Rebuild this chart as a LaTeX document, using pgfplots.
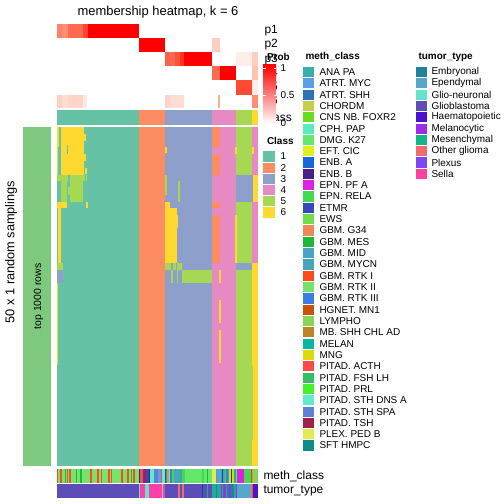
\documentclass[border=0pt]{standalone}
\usepackage{pgfplots}
\pgfplotsset{compat=1.18}
\usepackage{fontspec}
\setmainfont{Liberation Sans}
\definecolor{cA}{HTML}{66C2A5}
\definecolor{cB}{HTML}{FC8D62}
\definecolor{cC}{HTML}{8DA0CB}
\definecolor{cD}{HTML}{E78AC3}
\definecolor{cE}{HTML}{A6D854}
\definecolor{cF}{HTML}{FFD92F}
\definecolor{lg}{HTML}{7FC97F}
\definecolor{r10}{HTML}{FFEDE8}
\definecolor{r12}{HTML}{FFE9E3}
\definecolor{r18}{HTML}{FFDDD4}
\definecolor{r20}{HTML}{FFDAD0}
\definecolor{r22}{HTML}{FFD5CA}
\definecolor{r25}{HTML}{FFCFC2}
\definecolor{r30}{HTML}{FFC3B2}
\definecolor{r40}{HTML}{FFAD98}
\definecolor{r55}{HTML}{FF8E73}
\definecolor{r60}{HTML}{FF8268}
\definecolor{r70}{HTML}{FF6A50}
\definecolor{r75}{HTML}{FF5F46}
\definecolor{r80}{HTML}{FF5038}
\definecolor{r82}{HTML}{FF4B34}
\definecolor{r85}{HTML}{FF4430}
\definecolor{r90}{HTML}{FF3320}
\definecolor{rmid}{HTML}{FFA08A}
\definecolor{m1}{HTML}{3AADA8}
\definecolor{m2}{HTML}{5AA0E6}
\definecolor{m3}{HTML}{2F72B8}
\definecolor{m4}{HTML}{C7CC4E}
\definecolor{m5}{HTML}{6ADB1E}
\definecolor{m6}{HTML}{57EBC0}
\definecolor{m7}{HTML}{63E86A}
\definecolor{m8}{HTML}{DDF01E}
\definecolor{m9}{HTML}{1468D9}
\definecolor{m10}{HTML}{4B1F8A}
\definecolor{m11}{HTML}{DD22E0}
\definecolor{m12}{HTML}{45D851}
\definecolor{m13}{HTML}{3A47B8}
\definecolor{m14}{HTML}{72DD4A}
\definecolor{m15}{HTML}{EE8A5A}
\definecolor{m16}{HTML}{1EB83A}
\definecolor{m17}{HTML}{4AA3C3}
\definecolor{m18}{HTML}{44A5BD}
\definecolor{m19}{HTML}{FF4A1A}
\definecolor{m20}{HTML}{78E36C}
\definecolor{m21}{HTML}{3A7EE0}
\definecolor{m22}{HTML}{C8520A}
\definecolor{m23}{HTML}{86D45A}
\definecolor{m24}{HTML}{C08428}
\definecolor{m25}{HTML}{0DB5A5}
\definecolor{m26}{HTML}{DCDA0A}
\definecolor{m27}{HTML}{FF4848}
\definecolor{m28}{HTML}{34BE62}
\definecolor{m29}{HTML}{46F02E}
\definecolor{m30}{HTML}{5DECCF}
\definecolor{m31}{HTML}{6080D8}
\definecolor{m32}{HTML}{A22050}
\definecolor{m33}{HTML}{E3EA52}
\definecolor{m34}{HTML}{108C88}
\definecolor{nv}{HTML}{2B3A9A}
\definecolor{t1}{HTML}{1F8499}
\definecolor{t2}{HTML}{55A8CC}
\definecolor{t3}{HTML}{66E3CF}
\definecolor{t4}{HTML}{5C4DB9}
\definecolor{t5}{HTML}{4B14CC}
\definecolor{t6}{HTML}{9C2BEB}
\definecolor{t7}{HTML}{15B58A}
\definecolor{t8}{HTML}{F06A6E}
\definecolor{t9}{HTML}{7B47F0}
\definecolor{t10}{HTML}{FF3EA6}
\newcommand{\fs}[1]{\fontsize{#1}{#1}\selectfont}
\newcommand{\R}[5]{\addplot[fill=#1,draw=none,forget plot] coordinates {(#2,#4) (#3,#4) (#3,#5) (#2,#5)};}
\newcommand{\LE}[8]{\R{#1}{#2}{#3}{#4}{#5}\node[anchor=west,font=\fs{10}] at (axis cs:#6,#7) {#8};}
\begin{document}
\begin{tikzpicture}
\useasboundingbox (0,0) rectangle (504bp,504bp);
\begin{axis}[at={(0,0)},anchor=south west,scale only axis,width=504bp,height=504bp,
  xmin=0,xmax=504,ymin=0,ymax=504,y dir=reverse,hide axis,clip=false]
% ---------- membership probabilities ----------
% p1
\R{r60}{57}{62}{24}{38}
\R{r55}{62}{68}{24}{38}
\R{r70}{68}{83}{24}{38}
\R{r85}{83}{88}{24}{38}
\R{red}{88}{138.5}{24}{38}
% p2
\R{red}{138.5}{165}{38}{52}
\R{r25}{212}{219.5}{38}{52}
% p3
\R{r75}{165}{170}{52}{66.3}
\R{r70}{170}{175}{52}{66.3}
\R{r80}{175}{180}{52}{66.3}
\R{r90}{180}{184}{52}{66.3}
\R{red}{184}{212}{52}{66.3}
\R{r10}{235.5}{251.5}{52}{66.3}
\R{r25}{251.5}{258}{52}{66.3}
% p4
\R{r70}{212}{219.5}{66.3}{80.5}
\R{red}{219.5}{235.5}{66.3}{80.5}
\R{r30}{251.5}{258}{66.3}{80.5}
% p5
\R{r82}{235.5}{251.5}{80.5}{94.7}
\R{r10}{251.5}{258}{80.5}{94.7}
% p6
\R{r25}{57}{62}{94.7}{108.5}
\R{r18}{62}{68}{94.7}{108.5}
\R{r22}{68}{83}{94.7}{108.5}
\R{r12}{83}{87}{94.7}{108.5}
\R{r22}{165}{170}{94.7}{108.5}
\R{r18}{170}{184}{94.7}{108.5}
\R{r40}{217.5}{220}{94.7}{108.5}
\R{r55}{251.5}{258}{94.7}{108.5}
% class bar
\R{cA}{57}{138.5}{110}{125}
\R{cB}{138.5}{165}{110}{125}
\R{cC}{165}{212}{110}{125}
\R{cD}{212}{235.5}{110}{125}
\R{cE}{235.5}{251.5}{110}{125}
\R{cF}{251.5}{258}{110}{125}
% ---------- left bar ----------
\R{lg}{23}{51}{127}{466}
% ---------- main heatmap base ----------
\R{cA}{57}{138.6}{127}{466}
\R{cB}{138.5}{165.1}{127}{466}
\R{cC}{165}{212.1}{127}{466}
\R{cD}{212}{235.6}{127}{466}
\R{cE}{235.5}{251.6}{127}{466}
\R{cF}{251.5}{258}{127}{466}
% class 1 overlays
\R{cF}{61}{84}{127}{175}
\R{cF}{83}{85.5}{134}{141}
\R{cF}{84}{86}{154}{161}
\R{cF}{85}{86.5}{168}{174}
\R{cF}{57}{59}{127}{147}
\R{cF}{57}{58}{147}{175}
\R{cA}{66.5}{68}{145}{154}
\R{cE}{57}{67.5}{175}{181}
\R{cE}{70}{85}{175}{181}
\R{cE}{86}{87}{175}{181}
\R{cE}{61}{67}{181}{202}
\R{cE}{67.5}{70}{187}{195}
\R{cE}{70}{83}{181}{202}
\R{cF}{57}{67}{202}{208}
\R{cF}{86}{88}{202}{208}
\R{cF}{58}{60.5}{208}{263}
\R{cE}{57}{63}{263}{270}
\R{cC}{57}{63}{270}{283}
\R{cF}{57}{58}{283}{365}
% class 3 overlays
\R{cF}{165}{167}{147}{153}
\R{cE}{165}{167}{175}{195}
\R{cE}{178}{180}{181}{202}
\R{cF}{165}{170}{202}{208}
\R{cF}{165}{177}{208}{263}
\R{cF}{177}{178}{215}{228}
\R{cE}{165}{171}{263}{270}
\R{cE}{172.5}{176}{263}{270}
\R{cE}{177}{182}{263}{270}
\R{cE}{182}{212}{270}{283}
\R{cE}{171}{172.5}{270}{283}
\R{cE}{176.5}{178}{270}{283}
% class 4 overlays
\R{cB}{212}{219.5}{127}{147}
\R{cB}{212}{219.5}{154}{175}
\R{cB}{212}{219.5}{202}{208}
\R{cB}{212}{219.5}{215}{263}
\R{cF}{219}{220.5}{270}{283}
\R{cF}{219}{220.5}{300}{323}
\R{cF}{219}{220.5}{330}{363}
% class 5 overlays
\R{cF}{235}{236.5}{147}{154}
\R{cF}{235}{236.5}{215}{263}
\R{cC}{236}{251.6}{175}{202}
\R{cC}{236}{252}{263}{270}
\R{cE}{251.5}{253}{366}{440}
% class 6 overlays
\R{cD}{251.5}{258}{127}{175}
\R{cF}{251.7}{254}{147}{154}
\R{cC}{251.5}{253}{175}{202}
\R{cD}{251.5}{258}{202}{263}
% ---------- meth_class bar ----------
\R{m20}{57}{138.5}{469}{482.5}
\R{m19}{57}{58.3}{469}{482.5}
\R{m19}{60.3}{61.7}{469}{482.5}
\R{m16}{65}{66}{469}{482.5}
\R{m19}{66.7}{68}{469}{482.5}
\R{m19}{69}{70}{469}{482.5}
\R{m19}{70.3}{71.3}{469}{482.5}
\R{m16}{76}{77}{469}{482.5}
\R{m16}{79.7}{82}{469}{482.5}
\R{m19}{90}{92}{469}{482.5}
\R{m19}{97}{98.7}{469}{482.5}
\R{m19}{100.7}{101.7}{469}{482.5}
\R{m19}{108}{110}{469}{482.5}
\R{m19}{111}{112}{469}{482.5}
\R{m19}{120.7}{123}{469}{482.5}
\R{m19}{127}{128.7}{469}{482.5}
\R{m16}{130.7}{132}{469}{482.5}
\R{m19}{133}{134.7}{469}{482.5}
\R{m10}{138.5}{140}{469}{482.5}
\R{m27}{140}{142.7}{469}{482.5}
\R{m13}{142.7}{144}{469}{482.5}
\R{m32}{144}{145.7}{469}{482.5}
\R{m13}{145.7}{148.7}{469}{482.5}
\R{m10}{148.7}{150.3}{469}{482.5}
\R{m30}{150.3}{153.7}{469}{482.5}
\R{m31}{153.7}{157.7}{469}{482.5}
\R{m2}{157.7}{160.7}{469}{482.5}
\R{m27}{160.7}{162}{469}{482.5}
\R{m30}{162}{164.7}{469}{482.5}
\R{m13}{164.7}{165.7}{469}{482.5}
\R{m16}{165.7}{167}{469}{482.5}
\R{m15}{167}{168.7}{469}{482.5}
\R{m30}{168.7}{170.3}{469}{482.5}
\R{m21}{170.3}{172}{469}{482.5}
\R{m12}{172}{173.7}{469}{482.5}
\R{m1}{173.7}{175.3}{469}{482.5}
\R{m17}{175.3}{178.7}{469}{482.5}
\R{m1}{178.7}{182}{469}{482.5}
\R{m12}{182}{185.3}{469}{482.5}
\R{m7}{185.3}{202.3}{469}{482.5}
\R{m12}{202.3}{204}{469}{482.5}
\R{m7}{204}{207.3}{469}{482.5}
\R{m16}{207.3}{208.3}{469}{482.5}
\R{m7}{208.3}{211.7}{469}{482.5}
\R{m33}{211.7}{215.7}{469}{482.5}
\R{m1}{215.7}{217.3}{469}{482.5}
\R{m2}{217.3}{220.7}{469}{482.5}
\R{m1}{220.7}{222.3}{469}{482.5}
\R{nv}{222.3}{223.3}{469}{482.5}
\R{m1}{223.3}{225}{469}{482.5}
\R{m12}{225}{226.3}{469}{482.5}
\R{m21}{226.3}{227.7}{469}{482.5}
\R{m1}{227.7}{229}{469}{482.5}
\R{m26}{229}{230.7}{469}{482.5}
\R{nv}{230.7}{232.3}{469}{482.5}
\R{m26}{232.3}{234}{469}{482.5}
\R{m25}{234}{235.7}{469}{482.5}
\R{m7}{235.7}{237.3}{469}{482.5}
\R{m11}{237.3}{244}{469}{482.5}
\R{m12}{244}{250.7}{469}{482.5}
\R{m22}{250.7}{252.3}{469}{482.5}
\R{m15}{252.3}{253.3}{469}{482.5}
\R{m23}{253.3}{258}{469}{482.5}
% ---------- tumor_type bar ----------
\R{t4}{57}{258}{484}{498}
\R{t3}{138.7}{139.7}{484}{498}
\R{t10}{139.7}{145.3}{484}{498}
\R{t3}{145.3}{148.7}{484}{498}
\R{t10}{148.7}{162}{484}{498}
\R{t3}{162}{163}{484}{498}
\R{t10}{163}{164.7}{484}{498}
\R{t8}{177.7}{180.3}{484}{498}
\R{t8}{182}{183.7}{484}{498}
\R{nv}{202.3}{203.3}{484}{498}
\R{t7}{207.3}{208.3}{484}{498}
\R{t7}{211.7}{215.7}{484}{498}
\R{t9}{215.7}{217.3}{484}{498}
\R{t7}{217.3}{220.7}{484}{498}
\R{t6}{220.7}{222.3}{484}{498}
\R{t7}{222.3}{223.3}{484}{498}
\R{t6}{223.3}{225.7}{484}{498}
\R{t7}{225.7}{227.3}{484}{498}
\R{t1}{227.3}{229}{484}{498}
\R{t6}{229}{230.7}{484}{498}
\R{t1}{230.7}{234}{484}{498}
\R{t7}{234}{235.7}{484}{498}
\R{t6}{235.7}{237.3}{484}{498}
\R{t2}{237.3}{250.7}{484}{498}
\R{t8}{250.7}{252.3}{484}{498}
\R{m27}{252.3}{253.3}{484}{498}
\R{t5}{253.3}{258}{484}{498}
% ---------- texts ----------
\node[font=\fs{13}] at (axis cs:158,12) {membership heatmap, k = 6};
\node[anchor=west,font=\fs{12}] at (axis cs:261,31) {p1};
\node[anchor=west,font=\fs{12}] at (axis cs:261,45) {p2};
\node[anchor=west,font=\fs{12}] at (axis cs:261,59.5) {p3};
\node[anchor=west,font=\fs{12}] at (axis cs:261,73.5) {p4};
\node[anchor=west,font=\fs{12}] at (axis cs:261,87.5) {p5};
\node[anchor=west,font=\fs{12}] at (axis cs:261,101.5) {p6};
\node[anchor=west,font=\fs{12}] at (axis cs:261,117) {class};
\node[anchor=west,font=\fs{12}] at (axis cs:260,476) {meth\_class};
\node[anchor=west,font=\fs{12}] at (axis cs:260,491) {tumor\_type};
\node[rotate=90,font=\fs{12.8}] at (axis cs:11,252) {50 x 1 random samplings};
\node[rotate=90,font=\fs{10.5}] at (axis cs:38.5,296.5) {top 1000 rows};
% ---------- Prob legend ----------
\addplot[draw=none,top color=red,middle color=rmid,bottom color=white,forget plot] coordinates {(263,65) (276,65) (276,124) (263,124)};
\addplot[white,line width=0.6pt,forget plot] coordinates {(263,68) (265.5,68)};
\addplot[white,line width=0.6pt,forget plot] coordinates {(273.5,68) (276,68)};
\addplot[white,line width=0.6pt,forget plot] coordinates {(263,95.5) (265.5,95.5)};
\addplot[white,line width=0.6pt,forget plot] coordinates {(273.5,95.5) (276,95.5)};
\addplot[white,line width=0.6pt,forget plot] coordinates {(263,123) (265.5,123)};
\addplot[white,line width=0.6pt,forget plot] coordinates {(273.5,123) (276,123)};
\node[anchor=west,font=\fs{10}\bfseries] at (axis cs:263.5,57) {Prob};
\node[anchor=west,font=\fs{10}] at (axis cs:277,68) {1};
\node[anchor=west,font=\fs{10}] at (axis cs:277,95.5) {0.5};
\node[anchor=west,font=\fs{10}] at (axis cs:277,123) {0};
% ---------- Class legend ----------
\node[anchor=west,font=\fs{10}\bfseries] at (axis cs:263.5,141) {Class};
\LE{cA}{263}{275}{151.4}{161.6}{277}{156.5}{1}
\LE{cB}{263}{275}{162.6}{172.8}{277}{167.7}{2}
\LE{cC}{263}{275}{173.8}{184}{277}{178.9}{3}
\LE{cD}{263}{275}{185}{195.2}{277}{190.1}{4}
\LE{cE}{263}{275}{196.2}{206.4}{277}{201.3}{5}
\LE{cF}{263}{275}{207.4}{217.6}{277}{212.5}{6}
% ---------- meth_class legend ----------
\node[anchor=west,font=\fs{10}\bfseries] at (axis cs:302,57) {meth\_class};
\LE{m1}{303}{314}{66.9}{77.1}{316}{72}{ANA PA}
\LE{m2}{303}{314}{78.22}{88.42}{316}{83.32}{ATRT. MYC}
\LE{m3}{303}{314}{89.54}{99.74}{316}{94.64}{ATRT. SHH}
\LE{m4}{303}{314}{100.86}{111.06}{316}{105.96}{CHORDM}
\LE{m5}{303}{314}{112.18}{122.38}{316}{117.28}{CNS NB. FOXR2}
\LE{m6}{303}{314}{123.5}{133.7}{316}{128.6}{CPH. PAP}
\LE{m7}{303}{314}{134.82}{145.02}{316}{139.92}{DMG. K27}
\LE{m8}{303}{314}{146.14}{156.34}{316}{151.24}{EFT. CIC}
\LE{m9}{303}{314}{157.46}{167.66}{316}{162.56}{ENB. A}
\LE{m10}{303}{314}{168.78}{178.98}{316}{173.88}{ENB. B}
\LE{m11}{303}{314}{180.1}{190.3}{316}{185.2}{EPN. PF A}
\LE{m12}{303}{314}{191.42}{201.62}{316}{196.52}{EPN. RELA}
\LE{m13}{303}{314}{202.74}{212.94}{316}{207.84}{ETMR}
\LE{m14}{303}{314}{214.06}{224.26}{316}{219.16}{EWS}
\LE{m15}{303}{314}{225.38}{235.58}{316}{230.48}{GBM. G34}
\LE{m16}{303}{314}{236.7}{246.9}{316}{241.8}{GBM. MES}
\LE{m17}{303}{314}{248.02}{258.22}{316}{253.12}{GBM. MID}
\LE{m18}{303}{314}{259.34}{269.54}{316}{264.44}{GBM. MYCN}
\LE{m19}{303}{314}{270.66}{280.86}{316}{275.76}{GBM. RTK I}
\LE{m20}{303}{314}{281.98}{292.18}{316}{287.08}{GBM. RTK II}
\LE{m21}{303}{314}{293.3}{303.5}{316}{298.4}{GBM. RTK III}
\LE{m22}{303}{314}{304.62}{314.82}{316}{309.72}{HGNET. MN1}
\LE{m23}{303}{314}{315.94}{326.14}{316}{321.04}{LYMPHO}
\LE{m24}{303}{314}{327.26}{337.46}{316}{332.36}{MB. SHH CHL AD}
\LE{m25}{303}{314}{338.58}{348.78}{316}{343.68}{MELAN}
\LE{m26}{303}{314}{349.9}{360.1}{316}{355}{MNG}
\LE{m27}{303}{314}{361.22}{371.42}{316}{366.32}{PITAD. ACTH}
\LE{m28}{303}{314}{372.54}{382.74}{316}{377.64}{PITAD. FSH LH}
\LE{m29}{303}{314}{383.86}{394.06}{316}{388.96}{PITAD. PRL}
\LE{m30}{303}{314}{395.18}{405.38}{316}{400.28}{PITAD. STH DNS A}
\LE{m31}{303}{314}{406.5}{416.7}{316}{411.6}{PITAD. STH SPA}
\LE{m32}{303}{314}{417.82}{428.02}{316}{422.92}{PITAD. TSH}
\LE{m33}{303}{314}{429.14}{439.34}{316}{434.24}{PLEX. PED B}
\LE{m34}{303}{314}{440.46}{450.66}{316}{445.56}{SFT HMPC}
% ---------- tumor_type legend ----------
\node[anchor=west,font=\fs{10}\bfseries] at (axis cs:415,57) {tumor\_type};
\LE{t1}{416}{426.5}{66.9}{77.1}{428}{72}{Embryonal}
\LE{t2}{416}{426.5}{78.22}{88.42}{428}{83.32}{Ependymal}
\LE{t3}{416}{426.5}{89.54}{99.74}{428}{94.64}{Glio-neuronal}
\LE{t4}{416}{426.5}{100.86}{111.06}{428}{105.96}{Glioblastoma}
\LE{t5}{416}{426.5}{112.18}{122.38}{428}{117.28}{Haematopoietic}
\LE{t6}{416}{426.5}{123.5}{133.7}{428}{128.6}{Melanocytic}
\LE{t7}{416}{426.5}{134.82}{145.02}{428}{139.92}{Mesenchymal}
\LE{t8}{416}{426.5}{146.14}{156.34}{428}{151.24}{Other glioma}
\LE{t9}{416}{426.5}{157.46}{167.66}{428}{162.56}{Plexus}
\LE{t10}{416}{426.5}{168.78}{178.98}{428}{173.88}{Sella}
\end{axis}
\end{tikzpicture}
\end{document}
